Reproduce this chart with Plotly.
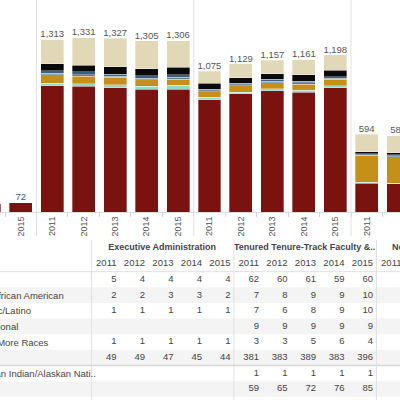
import plotly.graph_objects as go

# ---------------- chart data ----------------
years = ["2011", "2012", "2013", "2014", "2015"]
bar_group = [0, 0, 1, 1, 1, 1, 1, 2, 2, 2, 2, 2, 3, 3]
bar_year = ["2014", "2015", "2011", "2012", "2013", "2014", "2015",
            "2011", "2012", "2013", "2014", "2015", "2011", "2012"]

white = [66, 72, 963, 958, 946, 936, 935, 855, 901, 924, 915, 948, 221, 215]
am_indian = [0, 0, 20, 19, 25, 25, 33, 20, 13, 15, 15, 15, 5, 5]
unknown = [0, 0, 63, 57, 56, 46, 46, 43, 48, 48, 46, 49, 208, 203]
two_more = [0, 0, 13, 14, 10, 13, 13, 8, 8, 11, 10, 8, 4, 6]
hispanic = [0, 0, 18, 20, 15, 18, 18, 12, 12, 15, 13, 12, 6, 9]
international = [0, 0, 53, 53, 56, 53, 59, 43, 43, 40, 46, 51, 15, 15]
asian = [0, 0, 183, 210, 219, 214, 202, 94, 104, 104, 116, 115, 135, 130]

series_names = ["White", "American Indian/Alaskan Native", "Unknown",
                "Two or More Races", "Hispanic/Latino", "International", "Asian"]
series_values = [white, am_indian, unknown, two_more, hispanic, international, asian]
series_colors = ["#7a1310", "#8fdbca", "#c68f18", "#557fa3", "#3a5f80", "#0a0a0a", "#e1d8b8"]

# ---------------- table data ----------------
row_labels = ["Asian", "Black/African American", "Hispanic/Latino", "International",
              "Two or More Races", "White", "American Indian/Alaskan Nati..", "Other"]
table_groups = ["Executive Administration", "Tenured Tenure-Track Faculty &..",
                "Non-Tenure-Track Faculty"]
exec_vals = [[5, 4, 4, 4, 4], [2, 2, 3, 3, 2], [1, 1, 1, 1, 1], [None] * 5,
             [1, 1, 1, 1, 1], [49, 49, 47, 45, 44], [None] * 5, [None] * 5]
tenured_vals = [[62, 60, 61, 59, 60], [7, 8, 9, 9, 10], [7, 6, 8, 9, 10], [9, 9, 9, 9, 9],
                [3, 3, 5, 6, 4], [381, 383, 389, 383, 396], [1, 1, 1, 1, 1],
                [59, 65, 72, 76, 85]]
nontenure_vals = [[None] * 5 for _ in row_labels]
table_values = [exec_vals, tenured_vals, nontenure_vals]

FONT = "Liberation Sans, Arial, sans-serif"
TXT = "#555555"

ny = len(years)
xpos = [g * ny + years.index(y) for g, y in zip(bar_group, bar_year)]
totals = [sum(v[i] for v in series_values) for i in range(len(xpos))]

fig = go.Figure()
for name, vals, col in zip(series_names, series_values, series_colors):
    fig.add_trace(go.Bar(
        x=xpos, y=vals, name=name, marker_color=col,
        marker_line=dict(color="rgba(255,255,255,0.55)", width=0.6),
        xaxis="x", yaxis="y", hoverinfo="skip"))

fig.add_trace(go.Scatter(
    x=xpos, y=totals, mode="text", text=[f"{t:,}" for t in totals],
    textposition="top center", textfont=dict(size=9.5, color=TXT, family=FONT),
    xaxis="x", yaxis="y", hoverinfo="skip"))

# table cells
cell_x, cell_y, cell_t = [], [], []
for gi, gvals in enumerate(table_values):
    for r, row in enumerate(gvals):
        for c, v in enumerate(row):
            if v is not None:
                cell_x.append(gi * ny + c)
                cell_y.append(r)
                cell_t.append(str(v))
fig.add_trace(go.Scatter(
    x=cell_x, y=cell_y, text=cell_t, mode="text", textposition="middle left",
    textfont=dict(size=9.5, color="#444444", family=FONT),
    xaxis="x2", yaxis="y2", hoverinfo="skip"))

# year headers
hx, hy, ht = [], [], []
for gi in range(len(table_groups)):
    for c, yr in enumerate(years):
        hx.append(gi * ny + c)
        hy.append(-1)
        ht.append(yr)
fig.add_trace(go.Scatter(
    x=hx, y=hy, text=ht, mode="text", textposition="middle left",
    textfont=dict(size=9.5, color="#444444", family=FONT),
    xaxis="x2", yaxis="y2", hoverinfo="skip"))

# group headers
fig.add_trace(go.Scatter(
    x=[gi * ny + 1.6 for gi in range(len(table_groups))],
    y=[-2] * len(table_groups), text=[f"<b>{g}</b>" for g in table_groups],
    mode="text", textposition="middle center",
    textfont=dict(size=9, color="#444444", family=FONT),
    xaxis="x2", yaxis="y2", hoverinfo="skip"))

shapes = []
# banded rows
for r in range(len(row_labels)):
    if r % 2 == 1:
        shapes.append(dict(type="rect", xref="paper", yref="y2", x0=0, x1=1,
                           y0=r - 0.5, y1=r + 0.5, fillcolor="#f4f4f4",
                           line=dict(width=0), layer="below"))
# header line and section line
shapes.append(dict(type="line", xref="paper", yref="y2", x0=0, x1=1, y0=-0.5, y1=-0.5,
                   line=dict(color="#e2e2e2", width=1)))
shapes.append(dict(type="line", xref="paper", yref="y2", x0=0, x1=1, y0=5.5, y1=5.5,
                   line=dict(color="#d6d6d6", width=1.5)))
# table group dividers
for gi in range(len(table_groups)):
    xv = gi * ny - 0.88
    shapes.append(dict(type="line", xref="x2", yref="paper", x0=xv, x1=xv, y0=0, y1=0.4,
                       line=dict(color="#e0e0e0", width=1)))
# chart group dividers
for g in range(1, 4):
    xv = g * ny - 0.5
    shapes.append(dict(type="line", xref="x", yref="paper", x0=xv, x1=xv, y0=0.41, y1=1,
                       line=dict(color="#e2e2e2", width=1)))

annotations = []
for r, lab in enumerate(row_labels):
    annotations.append(dict(xref="paper", yref="y2", x=-36 / 400, y=r, text=lab,
                            xanchor="left", yanchor="middle", showarrow=False,
                            font=dict(size=9.5, color="#444444", family=FONT)))

fig.update_layout(
    width=400, height=400, margin=dict(l=0, r=0, t=0, b=0),
    paper_bgcolor="white", plot_bgcolor="white",
    barmode="stack", bargap=0.27, showlegend=False,
    shapes=shapes, annotations=annotations,
    xaxis=dict(domain=[0, 1], range=[3.339, 16.058], anchor="y",
               tickmode="array", tickvals=xpos, ticktext=bar_year,
               tickangle=-90, tickfont=dict(size=9, color=TXT, family=FONT),
               ticks="", showgrid=False, zeroline=False,
               showline=True, linecolor="#dcdcdc", linewidth=1,
               minor=dict(ticks="outside", tickmode="linear", tick0=0.5, dtick=1,
                          ticklen=4, tickcolor="#d4d4d4", showgrid=False)),
    yaxis=dict(domain=[0.47, 1], range=[0, 1617], visible=False),
    xaxis2=dict(domain=[0, 1], range=[-4.088, 9.947], anchor="y2", visible=False),
    yaxis2=dict(domain=[0, 0.4], range=[7.70, -2.524], visible=False),
)

fig.write_html("out.html", config={"displayModeBar": False},
               post_script="document.body.style.margin='0';document.body.style.overflow='hidden';")
